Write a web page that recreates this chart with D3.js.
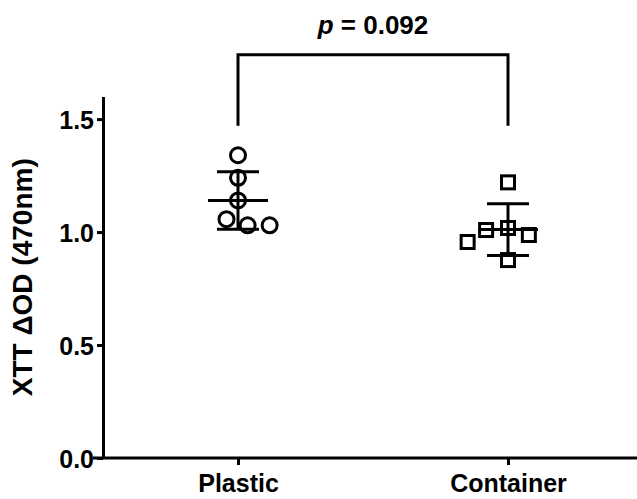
<!DOCTYPE html>
<html>
<head>
<meta charset="utf-8">
<script src="https://cdn.jsdelivr.net/npm/d3@7"></script>
<style>
  body { margin: 0; background: #fff; }
  svg text { font-family: "Liberation Sans", Arial, sans-serif; font-weight: bold; fill: #000; }
</style>
</head>
<body>
<div id="container"></div>
<script>
// values
const groups = ['Plastic', 'Container'];
const plastic = [1.34, 1.24, 1.14, 1.057, 1.03, 1.03];
const container = [1.22, 1.018, 1.009, 0.987, 0.956, 0.876];
const yTicks = [0.0, 0.5, 1.0, 1.5];
const pText = '0.092';

const W = 637, H = 499;
const plot = { left: 103, right: 643, top: 96.5, bottom: 458 };

const svg = d3.select('#container').append('svg')
  .attr('width', W)
  .attr('height', H);

const x = d3.scalePoint().domain(groups).range([plot.left, plot.right]).padding(0.5);
const y = d3.scaleLinear().domain([0, 1.6]).range([plot.bottom, plot.top]);

// y axis
const yAxis = svg.append('g')
  .attr('transform', `translate(${plot.left},0)`)
  .call(d3.axisLeft(y).tickValues(yTicks).tickFormat(d3.format('.1f')).tickSize(6).tickSizeOuter(0).tickPadding(3));
yAxis.selectAll('text').style('font-size', '25px').attr('dy', '0.36em');

// x axis
const xAxis = svg.append('g')
  .attr('transform', `translate(0,${plot.bottom})`)
  .call(d3.axisBottom(x).tickSize(7).tickSizeOuter(0).tickPadding(9));
xAxis.select('.domain').remove();
xAxis.selectAll('text').style('font-size', '25px').attr('dy', '0.72em');
svg.append('line')
  .attr('x1', 93).attr('x2', 637)
  .attr('y1', plot.bottom).attr('y2', plot.bottom);

svg.selectAll('.domain, .tick line, line')
  .attr('stroke', '#000').attr('stroke-width', 3);

// axis title
svg.append('text')
  .attr('transform', `translate(32,${(plot.top + plot.bottom) / 2}) rotate(-90)`)
  .attr('text-anchor', 'middle')
  .style('font-size', '28px')
  .text('XTT \u0394OD (470nm)');

// spread points of a group sideways so that markers do not overlap
function dodge(values, d) {
  const placed = [];
  values.map((v, i) => ({ v, i, py: y(v) }))
    .sort((a, b) => b.v - a.v)
    .forEach(p => {
      const near = placed.filter(q => Math.abs(q.py - p.py) < d);
      const cands = [0];
      near.forEach(q => {
        const s = Math.sqrt(d * d - (q.py - p.py) ** 2);
        cands.push(q.dx - s, q.dx + s);
      });
      cands.sort((a, b) => Math.abs(a) - Math.abs(b));
      p.dx = cands.find(c => near.every(q => Math.hypot(q.dx - c, q.py - p.py) >= d - 0.01));
      placed.push(p);
    });
  return placed;
}

const series = [
  { name: 'Plastic', values: plastic, shape: 'circle' },
  { name: 'Container', values: container, shape: 'square' }
];

series.forEach(s => {
  const cx = x(s.name);
  const g = svg.append('g');
  const pts = dodge(s.values, 22);

  if (s.shape === 'circle') {
    g.selectAll('circle').data(pts).enter().append('circle')
      .attr('cx', d => cx + d.dx)
      .attr('cy', d => d.py)
      .attr('r', 7.5)
      .attr('fill', 'none')
      .attr('stroke', '#000')
      .attr('stroke-width', 3);
  } else {
    g.selectAll('rect').data(pts).enter().append('rect')
      .attr('x', d => cx + d.dx - 6.5)
      .attr('y', d => d.py - 6.5)
      .attr('width', 13)
      .attr('height', 13)
      .attr('fill', 'none')
      .attr('stroke', '#000')
      .attr('stroke-width', 3);
  }

  // mean and SD
  const m = d3.mean(s.values), sd = d3.deviation(s.values);
  const bars = [
    [cx, y(m - sd), cx, y(m + sd)],
    [cx - 30, y(m), cx + 30, y(m)],
    [cx - 21, y(m + sd), cx + 21, y(m + sd)],
    [cx - 21, y(m - sd), cx + 21, y(m - sd)]
  ];
  g.selectAll('line').data(bars).enter().append('line')
    .attr('x1', d => d[0]).attr('y1', d => d[1])
    .attr('x2', d => d[2]).attr('y2', d => d[3])
    .attr('stroke', '#000')
    .attr('stroke-width', 3);
});

// significance bracket
const bLow = 1.47, bTop = 1.785;
svg.append('path')
  .attr('d', d3.line()([[x('Plastic'), y(bLow)], [x('Plastic'), y(bTop)], [x('Container'), y(bTop)], [x('Container'), y(bLow)]]))
  .attr('fill', 'none')
  .attr('stroke', '#000')
  .attr('stroke-width', 3);

const pLabel = svg.append('text')
  .attr('x', (x('Plastic') + x('Container')) / 2)
  .attr('y', 34)
  .attr('text-anchor', 'middle')
  .style('font-size', '26px');
pLabel.append('tspan').style('font-style', 'italic').text('p');
pLabel.append('tspan').text(' = ' + pText);
</script>
</body>
</html>
